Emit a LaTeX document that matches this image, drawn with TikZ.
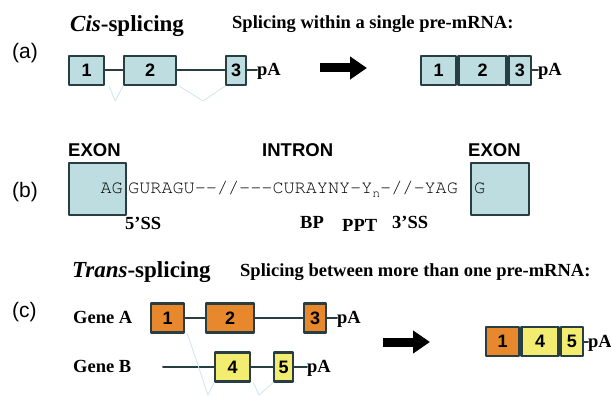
\documentclass[tikz,border=0pt]{standalone}
\usepackage{fontspec}
\setmainfont{Liberation Serif}
\setsansfont{Liberation Sans}
\newfontfamily\seqfont{TeX Gyre Cursor}
\usetikzlibrary{arrows.meta}
\definecolor{cisblue}{RGB}{190,221,224}
\definecolor{exonline}{RGB}{40,62,66}
\definecolor{geneA}{RGB}{232,136,44}
\definecolor{geneB}{RGB}{242,236,112}
\definecolor{faintblue}{RGB}{206,228,240}
\begin{document}
\begin{tikzpicture}[x=1pt,y=-1pt,line cap=round,line join=round,
  exon/.style={draw=exonline,line width=2.4pt,minimum height=29pt,inner sep=0pt,anchor=west,
    font=\sffamily\bfseries\fontsize{18}{18}\selectfont},
  cisbox/.style={exon,fill=cisblue},
  abox/.style={exon,fill=geneA},
  bbox/.style={exon,fill=geneB},
  intr/.style={exonline,line width=2pt},
  lbl/.style={font=\bfseries\fontsize{18.5}{20}\selectfont,inner sep=0pt,anchor=base west},
  hlbl/.style={font=\sffamily\bfseries\fontsize{18.5}{20}\selectfont,inner sep=0pt,anchor=base west},
  seq/.style={font=\seqfont\fontsize{18.5}{20}\selectfont,inner sep=0pt,anchor=base west},
  panel/.style={font=\sffamily\fontsize{21}{21}\selectfont,inner sep=0pt,anchor=west},
  head/.style={font=\bfseries\fontsize{23}{24}\selectfont,inner sep=0pt,anchor=base west},
  splice/.style={faintblue,line width=0.8pt},
  bigarrow/.style={line width=9pt,line cap=butt,-{Triangle[length=17pt,width=22pt]}}]
\useasboundingbox (0,0) rectangle (611,396);

% (a) cis-splicing
\node[panel] (pa) at (12,53) {(a)};
\node[head] (cis) at (70,32) {\textit{Cis}-splicing};
\node[lbl] (cissub) at (232,29) {Splicing within a single pre-mRNA:};
\node[cisbox,minimum width=35pt] (a1) at (68,70.5) {1};
\node[cisbox,minimum width=52pt] (a2) at (123,70.5) {2};
\node[cisbox,minimum width=20pt] (a3) at (225,70.5) {3};
\node[lbl] (apa) at (257,76) {pA};
\draw[intr] (a1) -- (a2);
\draw[intr] (a2) -- (a3);
\draw[intr] (a3.east) -- (a3.east -| apa.west);
\draw[splice] ([xshift=4pt]a1.south east) -- (115,101) -- (a2.south west);
\draw[splice] ([xshift=2pt]a2.south east) -- (203,101) -- (a3.south west);
\coordinate (arA1) at (320,68);
\coordinate (arA2) at (367,68);
\draw[bigarrow] (arA1) -- (arA2);
\node[cisbox,minimum width=35pt] (r1) at (420,70.5) {1};
\node[cisbox,minimum width=48pt] (r2) at (r1.east) {2};
\node[cisbox,minimum width=22pt] (r3) at (r2.east) {3};
\node[lbl] (rpa) at (538,76) {pA};
\draw[intr] (r3.east) -- (r3.east -| rpa.west);

% (b) splice sites
\node[panel] (pb) at (12,192) {(b)};
\node[hlbl] (exl) at (68,157) {EXON};
\node[hlbl] (intron) at (262,157) {INTRON};
\node[hlbl] (exr) at (468,157) {EXON};
\node[cisbox,minimum width=57pt,minimum height=52pt] (bl) at (68,189) {};
\node[cisbox,minimum width=58pt,minimum height=52pt] (br) at (470,189) {};
\node[seq,anchor=base east] (ag) at (123,193) {AG};
\node[seq] (intseq) at (128,193) {GURAGU-{}-//-{}-{}-CURAYNY-Y\raisebox{-4pt}{\fontsize{13}{13}\selectfont n}-//-YAG};
\node[seq] (g) at (474,193) {G};
\node[lbl] (ss5) at (125,229) {5’SS};
\node[lbl] (bp) at (300,228) {BP};
\node[lbl] (ppt) at (342,231) {PPT};
\node[lbl] (ss3) at (392,228) {3’SS};

% (c) trans-splicing
\node[panel] (pc) at (12,312) {(c)};
\node[head] (trans) at (72,277) {\textit{Trans}-splicing};
\node[lbl] (transsub) at (240,276) {Splicing between more than one pre-mRNA:};
\node[lbl] (genea) at (73,323) {Gene A};
\node[abox,minimum width=33pt] (c1) at (150,318) {1};
\node[abox,minimum width=48pt] (c2) at (205,318) {2};
\node[abox,minimum width=22pt] (c3) at (303,318) {3};
\node[lbl] (cpa) at (337,323) {pA};
\draw[intr] (c1) -- (c2);
\draw[intr] (c2) -- (c3);
\draw[intr] (c3.east) -- (c3.east -| cpa.west);
\node[lbl] (geneb) at (73,372) {Gene B};
\coordinate (bstart) at (163,367);
\node[bbox,minimum width=35pt] (c4) at (214,367) {4};
\node[bbox,minimum width=19pt] (c5) at (273,367) {5};
\node[lbl] (dpa) at (307,372) {pA};
\draw[intr] (bstart) -- (c4);
\draw[intr] (c4) -- (c5);
\draw[intr] (c5.east) -- (c5.east -| dpa.west);
\draw[splice] ([xshift=2pt]c1.south east) -- (208,395) -- (c4.south west);
\draw[splice] ([xshift=2pt]c4.south east) -- (259,395) -- (c5.south west);
\coordinate (arC1) at (383,342);
\coordinate (arC2) at (430,342);
\draw[bigarrow] (arC1) -- (arC2);
\node[abox,minimum width=33pt] (s1) at (485,341.5) {1};
\node[bbox,minimum width=37pt] (s4) at (s1.east) {4};
\node[bbox,minimum width=22pt] (s5) at (s4.east) {5};
\node[lbl] (spa) at (588,347) {pA};
\draw[intr] (s5.east) -- (s5.east -| spa.west);
\end{tikzpicture}
\end{document}
